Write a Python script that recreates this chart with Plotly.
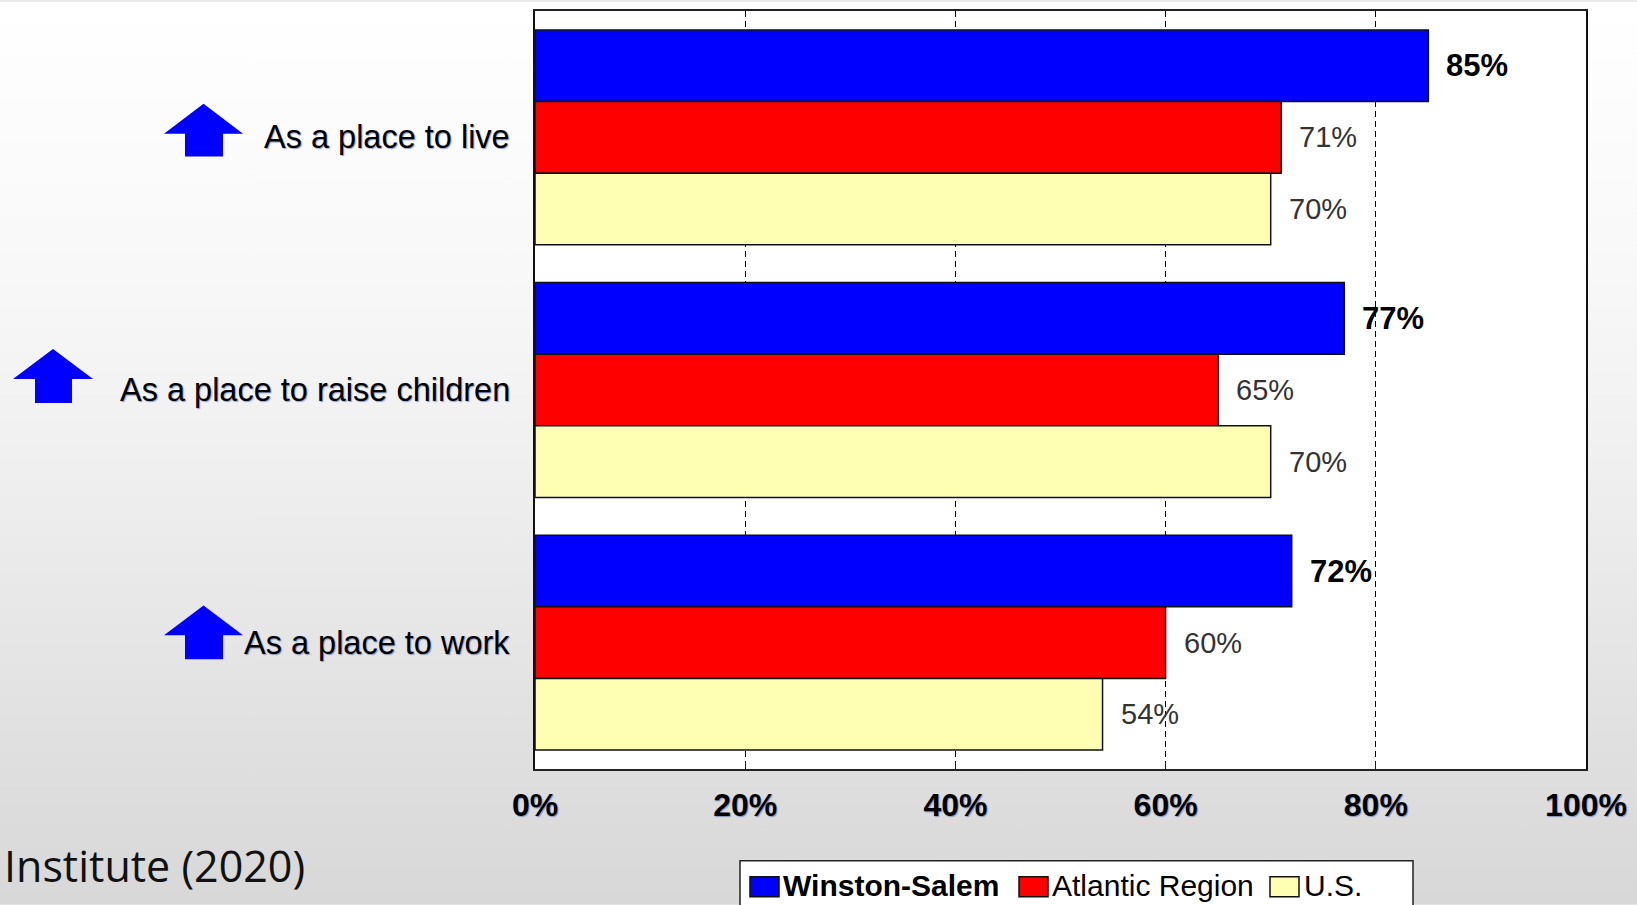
import base64
import plotly.graph_objects as go

# ---------------- data ----------------
categories = ["As a place to live", "As a place to raise children", "As a place to work"]
series_names = ["Winston-Salem", "Atlantic Region", "U.S."]
winston_salem = [0.85, 0.77, 0.72]
atlantic_region = [0.71, 0.65, 0.60]
us_values = [0.70, 0.70, 0.54]
series_colors = ["#0000ff", "#ff0000", "#ffffb3"]
x_tick_values = [0, 0.2, 0.4, 0.6, 0.8, 1.0]
x_tick_labels = ["0%", "20%", "40%", "60%", "80%", "100%"]
source_note = "Institute (2020)"

series_values = [winston_salem, atlantic_region, us_values]

# ---------------- geometry helpers (figure pixels -> paper) ----------------
W, H = 1637, 905
L, R, T, B = 535, 1586, 9, 769


def px2x(px):
    return (px - L) / (R - L)


def py2y(py):
    return (B - py) / (B - T)


FONT = "Liberation Sans, Arial, sans-serif"
SHADOW = "1px 1px 1px rgba(60,90,170,0.55)"

fig = go.Figure()
for name, vals, col in zip(series_names, series_values, series_colors):
    fig.add_trace(go.Bar(
        y=categories, x=vals, name=name, orientation="h",
        marker=dict(color=col, line=dict(color="#111111", width=1.5)),
        hoverinfo="x+name",
    ))

bargap = 0.15
bar_w = (1 - bargap) / len(series_names)

annotations = []
# value labels at the end of each bar
for k, vals in enumerate(series_values):
    for i, v in enumerate(vals):
        annotations.append(dict(
            x=v, y=i + (k - 1) * bar_w, xref="x", yref="y",
            text=f"{round(v * 100)}%", showarrow=False,
            xanchor="left", yanchor="middle", xshift=16 if k else 16,
            font=dict(family=FONT, size=31 if k == 0 else 29,
                      color="#000000" if k == 0 else "#333333",
                      weight="bold" if k == 0 else "normal"),
        ))

# category labels on the left
for i, c in enumerate(categories):
    annotations.append(dict(
        x=0, y=i, xref="paper", yref="y", text=c, showarrow=False,
        xanchor="right", yanchor="middle", xshift=-23,
        font=dict(family=FONT, size=32.5, color="#000000", shadow=SHADOW),
    ))

# source note
annotations.append(dict(
    x=px2x(2), y=py2y(866), xref="paper", yref="paper", text=source_note,
    showarrow=False, xanchor="left", yanchor="middle",
    font=dict(family="Open Sans, Noto Sans, sans-serif", size=43, color="#111111"),
))

shapes = []
# white plot area (above the gradient image)
shapes.append(dict(type="rect", xref="paper", yref="paper", x0=0, x1=1, y0=0, y1=1,
                   fillcolor="#ffffff", line=dict(width=0), layer="below"))

# up arrows next to the labels (pixel positions)
arrows = [
    (164, 243, 185, 223, 102, 132, 155),
    (13, 93, 35, 72, 348, 378, 402),
    (164, 243, 185, 223, 605, 635, 659),
]
for x0, x1, s0, s1, ytip, ybase, ybot in arrows:
    xm = (x0 + x1) / 2
    pts = [(xm, ytip), (x1, ybase), (s1, ybase), (s1, ybot), (s0, ybot), (s0, ybase), (x0, ybase)]
    path = "M " + " L ".join(f"{px2x(a):.5f},{py2y(b):.5f}" for a, b in pts) + " Z"
    shapes.append(dict(type="path", xref="paper", yref="paper", path=path,
                       fillcolor="#0000ff", line=dict(width=0)))

# custom legend
shapes.append(dict(type="rect", xref="paper", yref="paper",
                   x0=px2x(740), x1=px2x(1413), y0=py2y(930), y1=py2y(861),
                   fillcolor="#ffffff", line=dict(color="#222222", width=1.5)))
legend_sq_x = [750, 1019, 1270]
legend_txt_x = [781, 1050, 1302]
for k, (name, col) in enumerate(zip(series_names, series_colors)):
    sx = legend_sq_x[k]
    shapes.append(dict(type="rect", xref="paper", yref="paper",
                       x0=px2x(sx), x1=px2x(sx + 29), y0=py2y(897), y1=py2y(877),
                       fillcolor=col, line=dict(color="#111111", width=1.5)))
    annotations.append(dict(
        x=px2x(legend_txt_x[k]), y=py2y(886), xref="paper", yref="paper", text=name,
        showarrow=False, xanchor="left", yanchor="middle",
        font=dict(family=FONT, size=30, color="#000000",
                  weight="bold" if k == 0 else "normal"),
    ))

# gradient background
svg = (
    f'<svg xmlns="http://www.w3.org/2000/svg" width="{W}" height="{H}" preserveAspectRatio="none">'
    '<defs><linearGradient id="g" x1="0" y1="0" x2="0" y2="1">'
    '<stop offset="0" stop-color="#ffffff"/>'
    '<stop offset="0.3" stop-color="#f8f8f8"/>'
    '<stop offset="0.5" stop-color="#f0f0f0"/>'
    '<stop offset="0.7" stop-color="#e6e6e6"/>'
    '<stop offset="0.9" stop-color="#dcdcdc"/>'
    '<stop offset="1" stop-color="#d8d8d8"/>'
    '</linearGradient></defs>'
    f'<rect x="0" y="0" width="{W}" height="{H}" fill="url(#g)"/></svg>'
)
src = "data:image/svg+xml;base64," + base64.b64encode(svg.encode()).decode()

fig.update_layout(
    width=W, height=H, autosize=False,
    margin=dict(l=L, r=W - R, t=T, b=H - B, pad=0),
    paper_bgcolor="#ebebeb", plot_bgcolor="#ffffff",
    barmode="group", bargap=bargap, bargroupgap=0,
    showlegend=False,
    annotations=annotations, shapes=shapes,
    images=[dict(source=src, xref="paper", yref="paper",
                 x=px2x(0), y=py2y(0), sizex=px2x(W) - px2x(0), sizey=py2y(0) - py2y(H),
                 xanchor="left", yanchor="top", sizing="stretch", layer="below")],
    xaxis=dict(
        range=[0, 1], tickvals=x_tick_values, ticktext=x_tick_labels,
        showgrid=True, gridcolor="#000000", gridwidth=1, griddash="6px,4px",
        zeroline=False, showline=True, linecolor="#222222", linewidth=1.5, mirror=True,
        ticks="inside", ticklen=7, tickcolor="#222222", tickwidth=1,
        tickfont=dict(family=FONT, size=32, color="#000000", weight="bold", shadow=SHADOW),
        ticklabelstandoff=7,
    ),
    yaxis=dict(
        autorange="reversed", showticklabels=False, ticks="",
        showgrid=False, zeroline=False, showline=True, linecolor="#111111",
        linewidth=1.5, mirror=True,
    ),
)

fig.write_html("out.html", config={"displayModeBar": False},
               post_script="document.body.style.margin='0';document.body.style.padding='0';")
